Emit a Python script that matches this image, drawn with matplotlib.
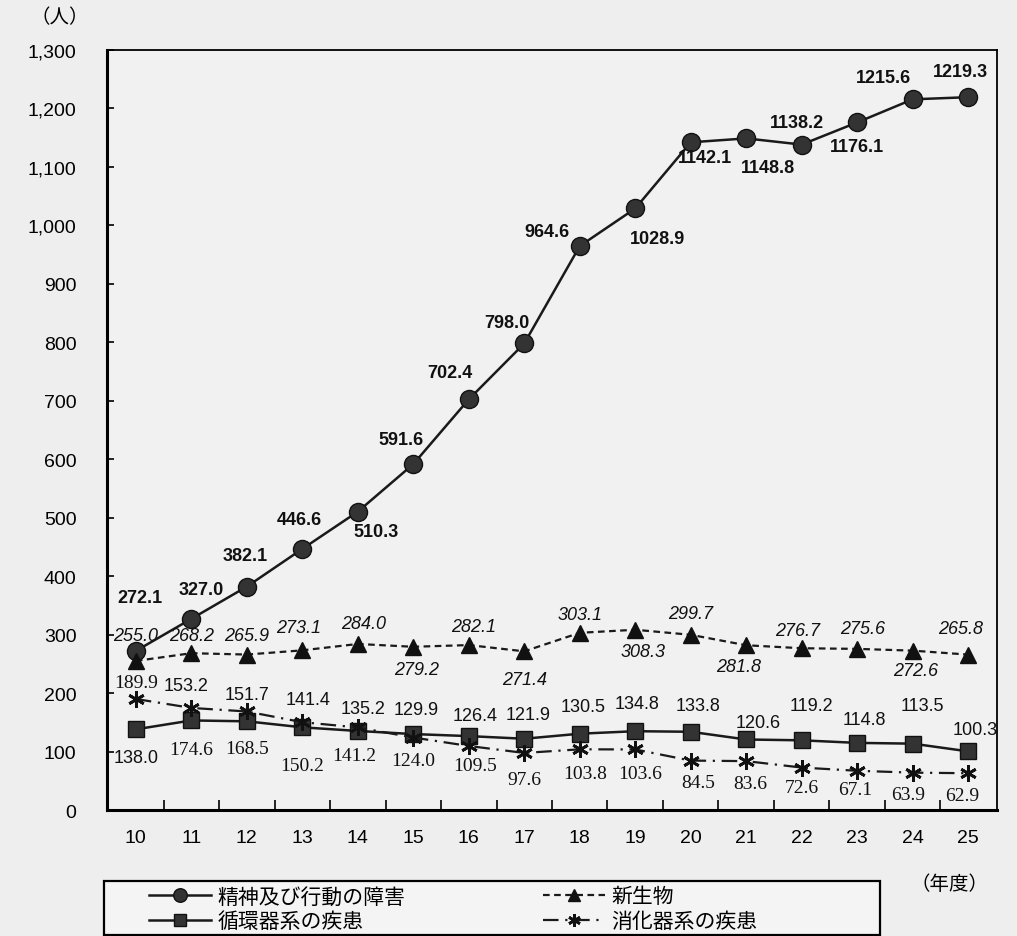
import matplotlib
matplotlib.use('Agg')
import matplotlib.pyplot as plt
from matplotlib.patches import Rectangle

years = ['10', '11', '12', '13', '14', '15', '16', '17',
         '18', '19', '20', '21', '22', '23', '24', '25']
mental = [272.1, 327.0, 382.1, 446.6, 510.3, 591.6, 702.4, 798.0,
          964.6, 1028.9, 1142.1, 1148.8, 1138.2, 1176.1, 1215.6, 1219.3]
neoplasm = [255.0, 268.2, 265.9, 273.1, 284.0, 279.2, 282.1, 271.4,
            303.1, 308.3, 299.7, 281.8, 276.7, 275.6, 272.6, 265.8]
circulatory = [138.0, 153.2, 151.7, 141.4, 135.2, 129.9, 126.4, 121.9,
               130.5, 134.8, 133.8, 120.6, 119.2, 114.8, 113.5, 100.3]
digestive = [189.9, 174.6, 168.5, 150.2, 141.2, 124.0, 109.5, 97.6,
             103.8, 103.6, 84.5, 83.6, 72.6, 67.1, 63.9, 62.9]
series_names = ['精神及び行動の障害', '新生物', '循環器系の疾患', '消化器系の疾患']

# label offsets in pixels (dx, dy) relative to each point
off_mental = [(4, 53), (10, 29), (-2, 31), (-3, 29), (18, -20), (-12, 25), (-19, 27), (-17, 21),
              (-33, 15), (22, -30), (14, -15), (22, -29), (-5, 22), (0, -24), (-29, 22), (-8, 26)]
off_neo = [(0, 25), (0, 18), (0, 19), (-4, 23), (6, 20), (3, -23), (5, 19), (0, -28),
           (0, 18), (8, -22), (0, 21), (-8, -21), (-4, 18), (5, 20), (3, -20), (-8, 26)]
off_circ = [(0, -28), (-5, 35), (0, 27), (6, 28), (5, 22), (3, 25), (6, 21), (4, 24),
            (3, 27), (2, 28), (7, 26), (12, 17), (10, 35), (7, 23), (10, 38), (7, 22)]
off_dig = [(0, 16), (0, -42), (0, -37), (0, -43), (-4, -28), (0, -23), (6, -20), (0, -27),
           (5, -24), (5, -24), (7, -22), (4, -22), (0, -20), (-2, -19), (-5, -22), (-6, -22)]

cjk = ['Noto Sans CJK JP', 'DejaVu Sans']
plt.rcParams['font.family'] = ['Liberation Sans', 'DejaVu Sans']

W, H = 1017, 937
fig = plt.figure(figsize=(W / 100, H / 100), dpi=100)
fig.patch.set_facecolor('#eeeeee')
ax = fig.add_axes([107 / W, 1 - 811 / H, (997 - 107) / W, (811 - 51) / H])
ax.set_facecolor('#f1f1f1')

x = list(range(len(years)))
l1, = ax.plot(x, mental, color='#1a1a1a', lw=1.8, marker='o', ms=13,
              mfc='#333333', mec='#111111', label=series_names[0])
l2, = ax.plot(x, neoplasm, color='#1a1a1a', lw=1.6, ls=(0, (3, 2)), marker='^', ms=12,
              mfc='#111111', mec='#111111', label=series_names[1])
l3, = ax.plot(x, circulatory, color='#1a1a1a', lw=1.8, marker='s', ms=11,
              mfc='#333333', mec='#111111', label=series_names[2])
l4, = ax.plot(x, digestive, color='#1a1a1a', lw=1.6, ls=(0, (7, 3, 1, 3)), marker=(6, 2, 0),
              ms=12, mew=2, mec='#111111', label=series_names[3])

for i in x:
    ax.annotate(f'{mental[i]:.1f}', (i, mental[i]), xytext=off_mental[i], textcoords='offset pixels',
                ha='center', va='center', fontsize=13, fontweight='bold', color='#111111')
    ax.annotate(f'{neoplasm[i]:.1f}', (i, neoplasm[i]), xytext=off_neo[i], textcoords='offset pixels',
                ha='center', va='center', fontsize=13, fontstyle='italic', color='#111111')
    ax.annotate(f'{circulatory[i]:.1f}', (i, circulatory[i]), xytext=off_circ[i], textcoords='offset pixels',
                ha='center', va='center', fontsize=13, color='#111111')
    ax.annotate(f'{digestive[i]:.1f}', (i, digestive[i]), xytext=off_dig[i], textcoords='offset pixels',
                ha='center', va='center', fontsize=14, family='Liberation Serif', color='#111111')

ax.set_xlim(-0.52, 15.52)
ax.set_ylim(0, 1300)
ax.set_yticks(range(0, 1301, 100))
ax.set_yticklabels([f'{v:,}' for v in range(0, 1301, 100)])
ax.tick_params(axis='y', direction='in', length=5, width=1.2, pad=22, labelsize=14)
ax.set_xticks(x)
ax.set_xticklabels(years)
ax.tick_params(axis='x', which='major', length=0, pad=14, labelsize=14)
ax.set_xticks([i + 0.5 for i in range(15)], minor=True)
ax.tick_params(axis='x', which='minor', direction='in', length=7, width=1.2)

for side in ['left', 'bottom']:
    ax.spines[side].set_linewidth(2.2)
for side in ['top', 'right']:
    ax.spines[side].set_linewidth(1.3)

fig.text(30 / W, 1 - 18 / H, '（人）', family=cjk, fontsize=14, ha='left', va='center')
fig.text(950 / W, 1 - 885 / H, '（年度）', family=cjk, fontsize=14, ha='center', va='center')

fig.patches.append(Rectangle((104 / W, 1 - 936 / H), 776 / W, 54 / H, transform=fig.transFigure,
                             fill=True, facecolor='#f4f4f4', edgecolor='black', lw=1.6))
fig.legend([l1, l3, l2, l4], [series_names[0], series_names[2], series_names[1], series_names[3]],
           loc='upper left', bbox_to_anchor=(136 / W, 1 - 874 / H), ncol=2, frameon=False,
           prop={'family': cjk, 'size': 15}, handlelength=3.0, handletextpad=0.3,
           columnspacing=6.6, labelspacing=0.12, borderpad=0.1, markerscale=0.75)

fig.savefig('out.png', dpi=100, facecolor=fig.get_facecolor())
